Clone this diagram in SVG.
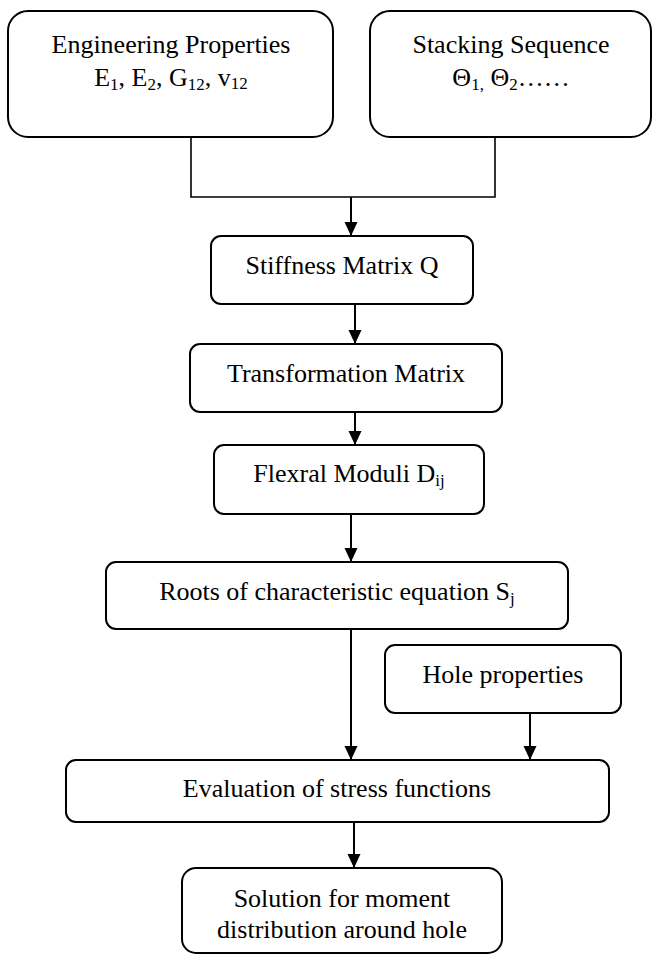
<svg xmlns="http://www.w3.org/2000/svg" width="652" height="955" viewBox="0 0 652 955">
  <defs>
    <marker id="arr" viewBox="0 0 14 14" refX="14" refY="7" markerWidth="14" markerHeight="14" markerUnits="userSpaceOnUse" orient="auto">
      <path d="M0,0.5 L14,7 L0,13.5 Z" fill="#000"/>
    </marker>
    <style>
      .box { fill: #fff; stroke: #000; stroke-width: 2; }
      .t { font-family: "Liberation Serif", "Times New Roman", serif; font-size: 26px; fill: #000; text-anchor: middle; }
      .sub { font-size: 17px; }
      .line { fill: none; stroke: #000; stroke-width: 1.6; }
      .arrow { fill: none; stroke: #000; stroke-width: 2; marker-end: url(#arr); }
    </style>
  </defs>
  <rect width="652" height="955" fill="#fff"/>

  <g id="connectors">
    <polyline class="line" points="191,137 191,197 495,197 495,137"/>
    <line class="arrow" x1="351" y1="197" x2="351" y2="236"/>
    <line class="arrow" x1="355" y1="304" x2="355" y2="344"/>
    <line class="arrow" x1="355" y1="412" x2="355" y2="445"/>
    <line class="arrow" x1="351" y1="514" x2="351" y2="562"/>
    <line class="arrow" x1="351" y1="629" x2="351" y2="760"/>
    <line class="arrow" x1="530" y1="713" x2="530" y2="760"/>
    <line class="arrow" x1="354" y1="822" x2="354" y2="868"/>
  </g>

  <g id="engineering">
    <rect class="box" x="8" y="11" width="325" height="126" rx="20"/>
    <text class="t" x="171" y="53">Engineering Properties</text>
    <text class="t" x="171" y="86">E<tspan class="sub" dy="4">1</tspan><tspan dy="-4">, E</tspan><tspan class="sub" dy="4">2</tspan><tspan dy="-4">, G</tspan><tspan class="sub" dy="4">12</tspan><tspan dy="-4">, v</tspan><tspan class="sub" dy="3">12</tspan></text>
  </g>

  <g id="stacking">
    <rect class="box" x="370" y="11" width="281" height="126" rx="20"/>
    <text class="t" x="511" y="53">Stacking Sequence</text>
    <text class="t" x="511" y="86">Θ<tspan class="sub" dy="4">1,</tspan><tspan dy="-4"> Θ</tspan><tspan class="sub" dy="4">2</tspan><tspan dy="-4">……</tspan></text>
  </g>

  <g id="stiffness">
    <rect class="box" x="211" y="236" width="262" height="68" rx="10"/>
    <text class="t" x="342" y="274">Stiffness Matrix Q</text>
  </g>

  <g id="transformation">
    <rect class="box" x="190" y="344" width="312" height="68" rx="10"/>
    <text class="t" x="346" y="382">Transformation Matrix</text>
  </g>

  <g id="flexral">
    <rect class="box" x="214" y="445" width="270" height="69" rx="10"/>
    <text class="t" x="349" y="482">Flexral Moduli D<tspan class="sub" dy="4">ij</tspan></text>
  </g>

  <g id="roots">
    <rect class="box" x="106" y="562" width="462" height="67" rx="10"/>
    <text class="t" x="337" y="600">Roots of characteristic equation S<tspan class="sub" dy="4">j</tspan></text>
  </g>

  <g id="hole">
    <rect class="box" x="385" y="645" width="236" height="68" rx="10"/>
    <text class="t" x="503" y="683">Hole properties</text>
  </g>

  <g id="evaluation">
    <rect class="box" x="66" y="760" width="543" height="62" rx="10"/>
    <text class="t" x="337" y="797">Evaluation of stress functions</text>
  </g>

  <g id="solution">
    <rect class="box" x="182" y="868" width="320" height="85" rx="14"/>
    <text class="t" x="342" y="907">Solution for moment</text>
    <text class="t" x="342" y="938">distribution around hole</text>
  </g>
</svg>
